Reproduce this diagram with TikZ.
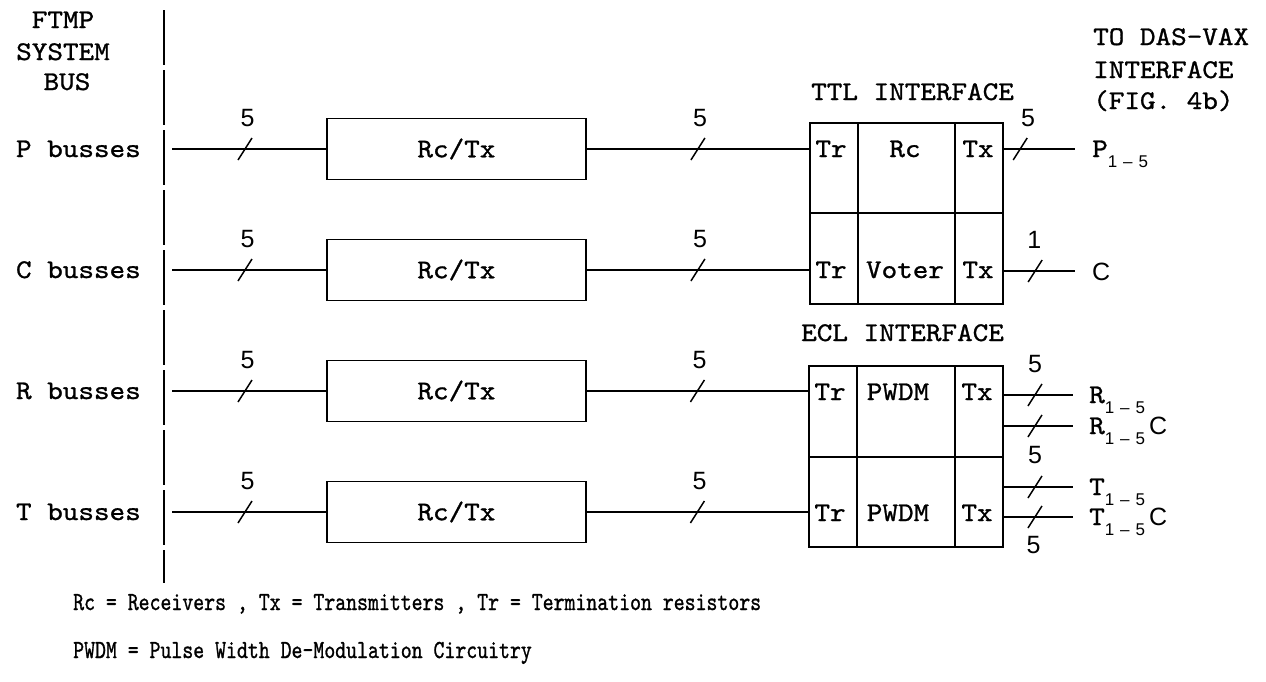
\documentclass[tikz,border=0pt]{standalone}
\usepackage{fontspec}
\usepackage{graphicx}
\newfontfamily\twfont{lmmono10-regular}[Extension=.otf, FakeBold=1.0, FakeStretch=1.1]
\newfontfamily\twlegend{lmmono10-regular}[Extension=.otf, FakeBold=1.0, FakeStretch=0.8]
\newfontfamily\sansnum{Liberation Sans}
\newcommand\fMono{\twfont\fontsize{27}{32}\selectfont}
\newcommand\fLeg{\twlegend\fontsize{26}{31}\selectfont}
\newcommand\fNum{\sansnum\fontsize{25}{29}\selectfont}
\newcommand\fSub{\sansnum\fontsize{17}{20}\selectfont}
\newcommand\subOneFive{\raisebox{-10pt}{\fSub 1\hspace{6pt}–\hspace{6pt}5}}
\begin{document}
\begin{tikzpicture}[x=1pt,y=-1pt,
  wire/.style={line width=1.6pt},
  boxline/.style={draw, line width=1.8pt, inner sep=0pt},
  txt/.style={font=\fMono, inner sep=0pt},
  num/.style={font=\fNum, inner sep=0pt},
  busmark/.pic={\draw[line width=1.5pt] (-7,11) -- (7,-11);}
]
\useasboundingbox (0,0) rectangle (1266,681);

% header
\node[txt, anchor=base] (h1) at (63,28) {FTMP};
\node[txt, anchor=base] (h2) at (63,60) {SYSTEM};
\node[txt, anchor=base] (h3) at (67,90) {BUS};

% dashed system bus line
\coordinate (busTop) at (164,10);
\coordinate (busBot) at (164,583);
\draw[wire, dash pattern=on 55pt off 5pt] (busTop) -- (busBot);

% TTL interface cells
\node[txt, anchor=base west] (ttlT) at (811,100) {TTL INTERFACE};
\node[boxline, minimum width=48pt, minimum height=90pt, anchor=north west] (ttlTrA) at (809,122) {};
\node[boxline, minimum width=97pt, minimum height=90pt, anchor=north west] (ttlMdA) at (857,122) {};
\node[boxline, minimum width=48pt, minimum height=90pt, anchor=north west] (ttlTxA) at (954,122) {};
\node[boxline, minimum width=48pt, minimum height=91pt, anchor=north west] (ttlTrB) at (809,212) {};
\node[boxline, minimum width=97pt, minimum height=91pt, anchor=north west] (ttlMdB) at (857,212) {};
\node[boxline, minimum width=48pt, minimum height=91pt, anchor=north west] (ttlTxB) at (954,212) {};

% ECL interface cells
\node[txt, anchor=base west] (eclT) at (801,341) {ECL INTERFACE};
\node[boxline, minimum width=48pt, minimum height=91pt, anchor=north west] (eclTrA) at (808,365) {};
\node[boxline, minimum width=98pt, minimum height=91pt, anchor=north west] (eclMdA) at (856,365) {};
\node[boxline, minimum width=48pt, minimum height=91pt, anchor=north west] (eclTxA) at (954,365) {};
\node[boxline, minimum width=48pt, minimum height=90pt, anchor=north west] (eclTrB) at (808,456) {};
\node[boxline, minimum width=98pt, minimum height=90pt, anchor=north west] (eclMdB) at (856,456) {};
\node[boxline, minimum width=48pt, minimum height=90pt, anchor=north west] (eclTxB) at (954,456) {};

% cell texts
\node[txt, anchor=base] (tTrA) at (831,157) {Tr};
\node[txt, anchor=base] (tRc)  at (905,157) {Rc};
\node[txt, anchor=base] (tTxA) at (978,157) {Tx};
\node[txt, anchor=base] (tTrB) at (831,278) {Tr};
\node[txt, anchor=base] (tVot) at (905,278) {Voter};
\node[txt, anchor=base] (tTxB) at (978,278) {Tx};
\node[txt, anchor=base] (eTrA) at (830,400) {Tr};
\node[txt, anchor=base] (ePwA) at (898,400) {PWDM};
\node[txt, anchor=base] (eTxA) at (977,400) {Tx};
\node[txt, anchor=base] (eTrB) at (830,521) {Tr};
\node[txt, anchor=base] (ePwB) at (898,521) {PWDM};
\node[txt, anchor=base] (eTxB) at (977,521) {Tx};

% rows: labels, Rc/Tx boxes and input wires
\foreach \rowname/\yy in {P/149,C/270,R/391,T/512}{
  \node[txt, anchor=base east] (lab\rowname) at (141,\yy+8) {\rowname\ busses};
  \coordinate (in\rowname) at (172,\yy);
  \node[boxline, minimum width=259pt, minimum height=61pt, anchor=west, font=\fMono] (rt\rowname) at (326,\yy) {Rc/Tx};
  \draw[wire] (in\rowname) -- (rt\rowname.west) pic[pos=0.474]{busmark} node[num, pos=0.49, yshift=31pt]{5};
}

% wires from Rc/Tx to interfaces
\draw[wire] (rtP.east) -- (rtP.east -| ttlTrA.west) pic[pos=0.5]{busmark} node[num, pos=0.51, yshift=31pt]{5};
\draw[wire] (rtC.east) -- (rtC.east -| ttlTrB.west) pic[pos=0.5]{busmark} node[num, pos=0.51, yshift=31pt]{5};
\draw[wire] (rtR.east) -- (rtR.east -| eclTrA.west) pic[pos=0.5]{busmark} node[num, pos=0.51, yshift=31pt]{5};
\draw[wire] (rtT.east) -- (rtT.east -| eclTrB.west) pic[pos=0.5]{busmark} node[num, pos=0.51, yshift=31pt]{5};

% TTL outputs
\coordinate (oP) at (1075,149);
\coordinate (oC) at (1075,271);
\draw[wire] (ttlTxA.east |- oP) -- (oP) pic[pos=0.23]{busmark} node[num, pos=0.34, yshift=31pt]{5};
\draw[wire] (ttlTxB.east |- oC) -- (oC) pic[pos=0.44]{busmark} node[num, pos=0.43, yshift=31pt]{1};
\node[txt, anchor=base west] (lP) at (1092,157) {P\subOneFive};
\node[num, anchor=west] (lC) at (1092,272) {C};

% ECL outputs
\coordinate (oR)  at (1073,395);
\coordinate (oRC) at (1073,426);
\coordinate (oT)  at (1073,487);
\coordinate (oTC) at (1073,517);
\draw[wire] (eclTxA.east |- oR)  -- (oR)  pic[pos=0.45]{busmark} node[num, pos=0.45, yshift=31pt]{5};
\draw[wire] (eclTxA.east |- oRC) -- (oRC) pic[pos=0.45]{busmark} node[num, pos=0.45, yshift=-29pt]{5};
\draw[wire] (eclTxB.east |- oT)  -- (oT)  pic[pos=0.45]{busmark};
\draw[wire] (eclTxB.east |- oTC) -- (oTC) pic[pos=0.45]{busmark} node[num, pos=0.43, yshift=-28pt]{5};
\node[txt, anchor=base west] (lR)  at (1089,403) {R\subOneFive};
\node[txt, anchor=base west] (lRC) at (1089,434) {R\subOneFive\hspace{4pt}{\fNum C}};
\node[txt, anchor=base west] (lT)  at (1089,495) {T\subOneFive};
\node[txt, anchor=base west] (lTC) at (1089,525) {T\subOneFive\hspace{4pt}{\fNum C}};

% destination header
\node[txt, anchor=base west] (d1) at (1093,45) {TO DAS-VAX};
\node[txt, anchor=base west] (d2) at (1093,78) {INTERFACE};
\node[txt, anchor=base west] (d3) at (1093,109) {(FIG. 4b)};

% legend
\node[anchor=base west, inner sep=0pt, font=\fLeg] (leg1) at (73,610) {Rc = Receivers , Tx = Transmitters , Tr = Termination resistors};
\node[anchor=base west, inner sep=0pt, font=\fLeg] (leg2) at (73,658) {PWDM = Pulse Width De-Modulation Circuitry};
\end{tikzpicture}
\end{document}
